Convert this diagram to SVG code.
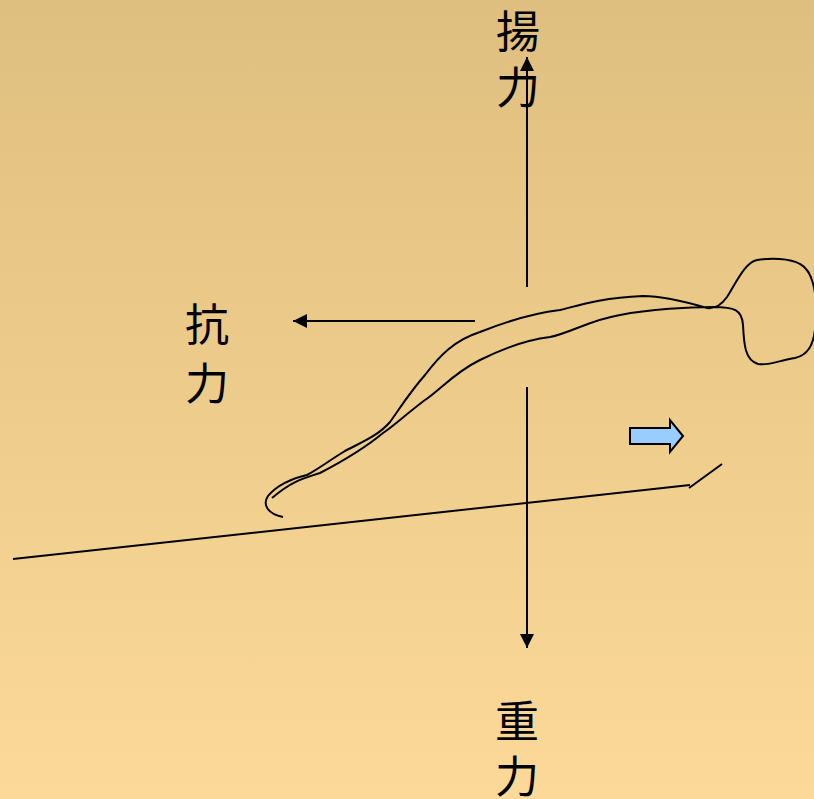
<svg xmlns="http://www.w3.org/2000/svg" width="814" height="799" viewBox="0 0 814 799">
  <defs>
    <linearGradient id="bg" x1="0" y1="0" x2="0" y2="1">
      <stop offset="0" stop-color="#DFBF7F"/>
      <stop offset="1" stop-color="#FCD998"/>
    </linearGradient>
    <marker id="tri" viewBox="0 0 10 10" refX="10" refY="5" markerWidth="14" markerHeight="14" markerUnits="userSpaceOnUse" orient="auto">
      <path d="M0,0 L10,5 L0,10 Z" fill="#000"/>
    </marker>
    <style>
      .lbl { font-family: "Noto Sans CJK JP", "Noto Sans CJK SC", sans-serif; font-size: 44px; fill: #000; text-anchor: middle; }
      .ln { fill: none; stroke: #000; stroke-width: 2; }
      .force { fill: none; stroke: #000; stroke-width: 2; marker-end: url(#tri); }
    </style>
  </defs>

  <rect width="814" height="799" fill="url(#bg)"/>

  <!-- force arrows -->
  <g id="connectors">
    <line class="force" x1="527" y1="287" x2="527" y2="57"/>
    <line class="force" x1="475" y1="321" x2="293" y2="321"/>
    <line class="force" x1="527" y1="387" x2="527" y2="648"/>
  </g>

  <!-- water surface -->
  <g id="ground">
    <polyline class="ln" points="13,559 690,485"/>
    <polyline class="ln" points="689,488 722,464"/>
  </g>

  <!-- swimmer outline -->
  <g id="swimmer">
    <path class="ln" d="M283,517 C268,514 262,505 268,496 C276,486 292,478 307,475 C320,468 330,460 345,451 C360,443 378,436 390,422 C400,408 410,392 425,375 C440,355 455,340 480,332 C510,320 535,313 560,310 C580,305 600,298 643,296 C665,296 690,303 707,308 C715,309 722,304 727,297 C735,285 745,262 757,260 C770,258 790,258 800,264 C815,272 818,300 815,330 C813,345 808,355 795,358 C780,360 770,366 758,364 C745,360 744,345 743,325 C742,310 735,307 713,307 C690,307 650,309 620,315 C590,320 570,333 550,337 C525,340 500,350 480,360 C455,372 440,390 425,400 C405,415 395,425 383,433 C365,448 345,460 320,473 C305,478 293,480 272,498"/>
  </g>

  <!-- direction of travel -->
  <g id="direction">
    <path d="M630,428 L670,428 L670,420 L683,436 L670,452 L670,444 L630,444 Z" fill="#99CCFF" stroke="#000" stroke-width="2" stroke-linejoin="miter"/>
  </g>

  <!-- vertical labels, one character per line -->
  <g id="lift">
    <text class="lbl"><tspan x="518" y="48">揚</tspan><tspan x="518" y="104">力</tspan></text>
  </g>
  <g id="drag">
    <text class="lbl"><tspan x="207" y="341">抗</tspan><tspan x="207" y="400">力</tspan></text>
  </g>
  <g id="gravity">
    <text class="lbl"><tspan x="517" y="738">重</tspan><tspan x="517" y="793">力</tspan></text>
  </g>
</svg>
